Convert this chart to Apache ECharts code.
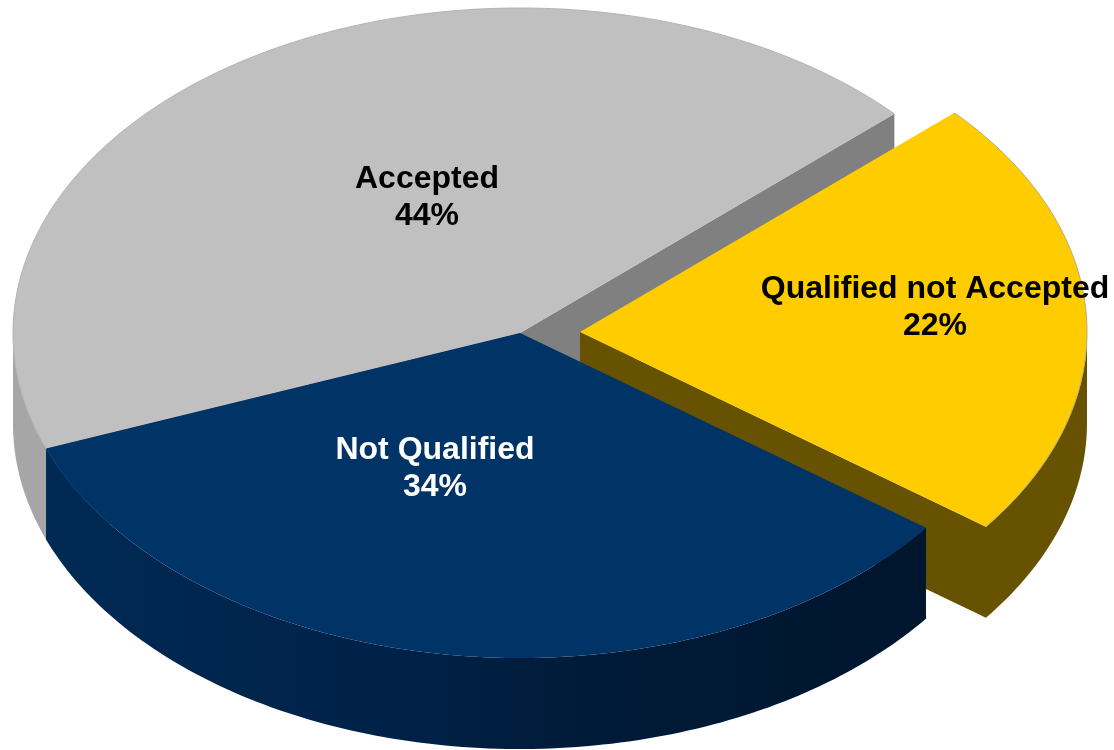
<!DOCTYPE html>
<html>
<head>
<meta charset="utf-8">
<style>html,body{margin:0;padding:0;background:#fff}#c{width:1114px;height:750px}</style>
<script src="https://cdn.jsdelivr.net/npm/echarts@6/dist/echarts.min.js"></script>
</head>
<body>
<div id="c"></div>
<script>
// Data
const categories = ['Accepted', 'Not Qualified', 'Qualified not Accepted'];
const values = [44, 34, 22];

// Styling / layout (not data)
const topColors = ['#c0c0c0', '#003366', '#ffcc00'];
const wallColors = ['#808080', '#001f3f', '#665200'];
const edgeColors = ['#b4b4b4', null, '#b8ad78'];
const labelColors = ['#000000', '#ffffff', '#000000'];
const labelCenters = [[427, 198], [435, 469], [935, 308]];
const sliceOffsets = [[0, 0], [0, 0], [60, -1]];
const drawOrder = [0, 2, 1];
const view = {cx: 520, cy: 333, rx: 507, ry: 325, depth: 91, startDeg: 42.4};

const total = values.reduce((a, b) => a + b, 0);
const spans = [];
values.reduce((acc, v) => {
  const a0 = acc, a1 = acc + v / total * 360;
  spans.push([a0, a1]);
  return a1;
}, view.startDeg);

function pt(deg, ox, oy, drop) {
  const t = deg * Math.PI / 180;
  return [view.cx + ox + view.rx * Math.cos(t), view.cy + oy - view.ry * Math.sin(t) + drop];
}
function arc(a0, a1, ox, oy, drop) {
  const pts = [];
  const n = Math.max(2, Math.ceil(Math.abs(a1 - a0)));
  for (let i = 0; i <= n; i++) pts.push(pt(a0 + (a1 - a0) * i / n, ox, oy, drop));
  return pts;
}
function poly(points, fill, z2) {
  return {type: 'polygon', z2, silent: true, shape: {points}, style: {fill}};
}
function sideFill(idx) {
  if (idx === 1) {
    return new echarts.graphic.LinearGradient(0, 0, 1, 0, [
      {offset: 0, color: '#002a54'}, {offset: .4, color: '#002148'},
      {offset: .62, color: '#001b38'}, {offset: 1, color: '#00152e'}]);
  }
  if (idx === 0) return '#a6a6a6';
  return '#665200';
}

function renderItem(params, api) {
  const idx = params.dataIndex;
  const [a0, a1] = spans[idx];
  const [ox, oy] = sliceOffsets[idx];
  const base = drawOrder.indexOf(idx) * 10 + 1;
  const d = view.depth;
  const children = [];
  const c = [view.cx + ox, view.cy + oy];

  // Cut walls: the start wall faces the viewer when cos(a0) > 0, the end wall when cos(a1) < 0
  const cosOf = a => Math.cos(a * Math.PI / 180);
  const walls = [];
  if (cosOf(a0) > 0) walls.push(a0);
  if (cosOf(a1) < 0) walls.push(a1);
  walls.forEach(a => {
    const e = pt(a, ox, oy, 0);
    children.push(poly([c, e, [e[0], e[1] + d], [c[0], c[1] + d]], wallColors[idx], base));
  });
  // Outer rim: only the part on the lower half of the ellipse is visible
  const lo = Math.max(a0, 180), hi = Math.min(a1, 360);
  if (hi > lo) {
    const upper = arc(lo, hi, ox, oy, 0);
    const lower = arc(hi, lo, ox, oy, d);
    children.push(poly(upper.concat(lower), sideFill(idx), base + 1));
  }
  // Top face
  const topArc = arc(a0, a1, ox, oy, 0);
  children.push(poly([c].concat(topArc), topColors[idx], base + 2));
  if (edgeColors[idx]) {
    children.push({type: 'polyline', z2: base + 3, silent: true, shape: {points: topArc},
      style: {stroke: edgeColors[idx], lineWidth: 1, fill: null}});
  }
  // Label
  const lc = labelCenters[idx];
  children.push({type: 'text', z2: 100, silent: true,
    style: {x: lc[0], y: lc[1], text: categories[idx] + '\n' + api.value(0) + '%',
      fill: labelColors[idx], align: 'center', verticalAlign: 'middle',
      font: 'bold 32px "Liberation Sans", Arial, sans-serif', lineHeight: 37}});
  return {type: 'group', children};
}

const chart = echarts.init(document.getElementById('c'), null, {renderer: 'canvas'});
chart.setOption({
  animation: false,
  backgroundColor: '#ffffff',
  series: [{
    type: 'custom',
    coordinateSystem: 'none',
    renderItem,
    data: values.map((v, i) => ({name: categories[i], value: [v]}))
  }]
});
</script>
</body>
</html>
